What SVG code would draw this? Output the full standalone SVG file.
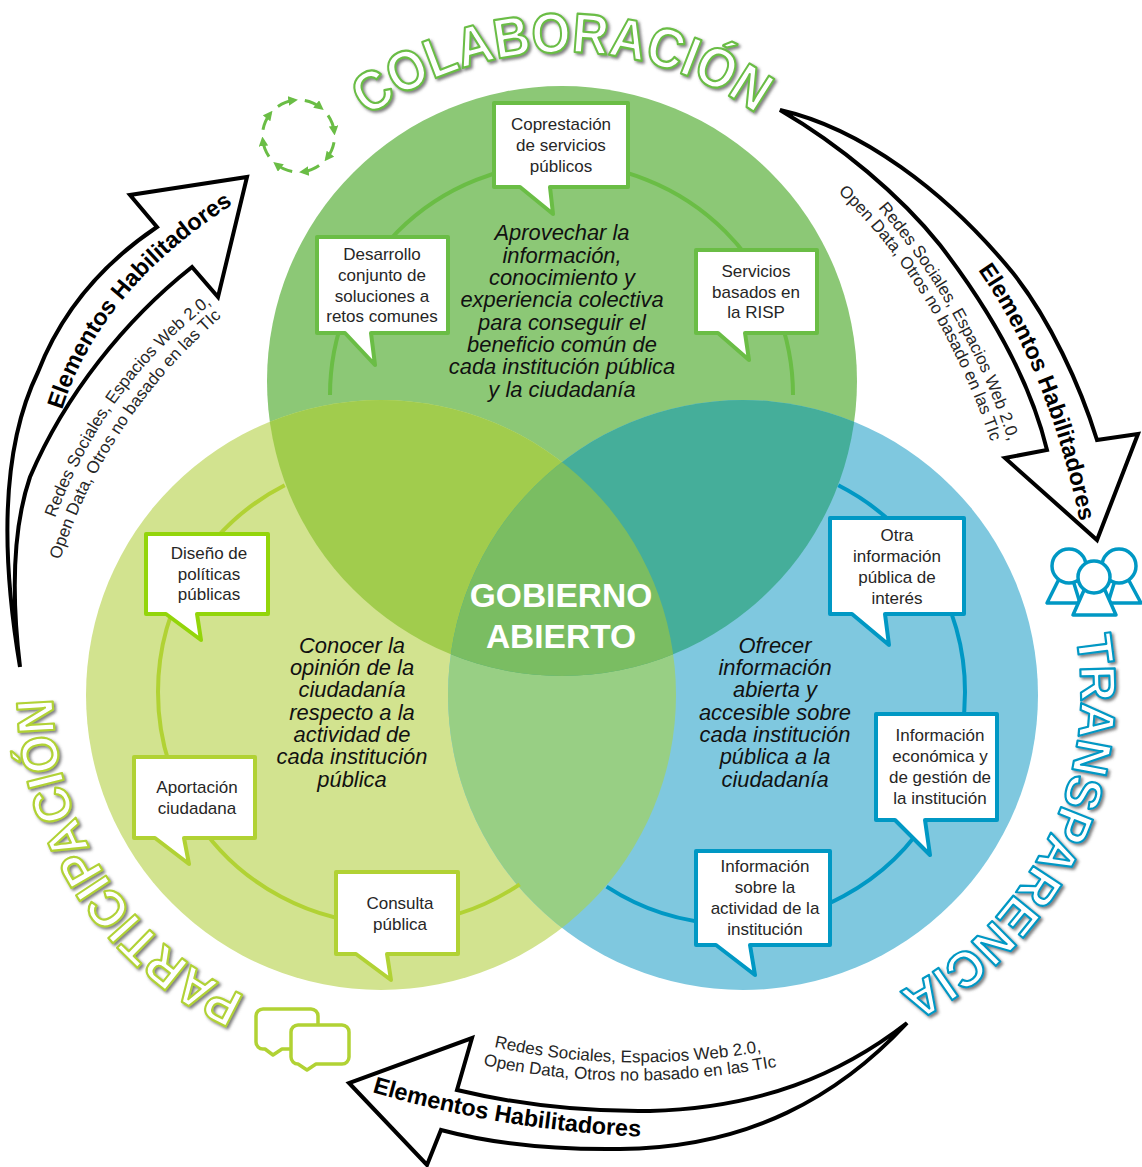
<svg xmlns="http://www.w3.org/2000/svg" xmlns:xlink="http://www.w3.org/1999/xlink" width="1142" height="1167" viewBox="0 0 1142 1167">
<style>
text{font-family:"Liberation Sans",Arial,sans-serif}
.box{fill:#fff;stroke-width:4;stroke-linejoin:round}
.g{stroke:#6ABD45}.l{stroke:#93D50A}.l2{stroke:#B1D234}.b{stroke:#0098C4}
.ring{fill:none;stroke-width:4}
.bt{font-size:17px;fill:#262626;text-anchor:middle}
.it{font-size:21.9px;font-style:italic;fill:#111;text-anchor:middle}
.ctr{font-size:33.5px;font-weight:bold;fill:#fff;text-anchor:middle}
.arrow{fill:#fff;stroke:#000;stroke-width:4;stroke-linejoin:miter}
.ah{font-size:23.4px;font-weight:bold;fill:#000}
.as{font-size:17px;fill:#262626}
.ttl{fill:#fff;stroke-width:2.2;stroke-linejoin:round;font-weight:bold;filter:url(#sh)}
.icon{fill:none;stroke-width:3.5;stroke-linejoin:round}
</style>
<defs>
<filter id="sh" x="-10%" y="-10%" width="125%" height="125%"><feDropShadow dx="2" dy="2" stdDeviation="1.6" flood-color="#555" flood-opacity=".75"/></filter>
<clipPath id="cT"><circle cx="562" cy="381" r="295"/></clipPath>
<clipPath id="cL"><circle cx="381" cy="695" r="295"/></clipPath>
<clipPath id="cR"><circle cx="743" cy="695" r="295"/></clipPath>
<marker id="ma" viewBox="0 0 10 10" refX="6" refY="5" markerWidth="3.2" markerHeight="3.2" orient="auto"><path d="M0,0L10,5L0,10Z" fill="#6ABD45"/></marker>
<path id="pC" d="M368,117 A330,330 0 0 1 758,115"/>
<path id="pP" d="M245,996 A330,330 0 0 1 53,702"/>
<path id="pT" d="M1076,636 A337,337 0 0 1 895,994"/>
<path id="a1h" d="M62,410 Q100,290 232,205"/>
<path id="a1s" d="M55,518 Q105,385 210,305"/>
<path id="a1o" d="M60,560 Q105,420 220,318"/>
<path id="a2h" d="M978,270 Q1048,370 1080,522"/>
<path id="a2s" d="M878,208 Q965,310 1008,440"/>
<path id="a2o" d="M838,192 Q940,290 992,445"/>
<path id="a3h" d="M372,1092 Q500,1130 645,1137"/>
<path id="a3s" d="M494,1047 Q620,1075 760,1052"/>
<path id="a3o" d="M483,1065 Q620,1095 775,1067"/>
</defs>
<rect width="1142" height="1167" fill="#fff"/>
<g id="venn">
<circle cx="562" cy="381" r="295" fill="#8CC876"/>
<circle cx="381" cy="695" r="295" fill="#D2E38F"/>
<circle cx="743" cy="695" r="295" fill="#7FC8DF"/>
<g clip-path="url(#cL)"><circle cx="743" cy="695" r="295" fill="#98CF84"/></g>
<g clip-path="url(#cT)"><circle cx="381" cy="695" r="295" fill="#A1CC4D"/><circle cx="743" cy="695" r="295" fill="#45AE9A"/></g>
<g clip-path="url(#cT)"><g clip-path="url(#cL)"><circle cx="743" cy="695" r="295" fill="#7ABD62"/></g></g>
</g>
<g id="connectors">
<path class="ring g" d="M330,395 A231.5,231.5 0 0 1 793,395"/>
<path class="ring l2" d="M284.7,485.3 A232,232 0 0 0 158,692 A232,232 0 0 0 519.7,884.3"/>
<path class="ring b" d="M838.3,485.3 A232,232 0 0 1 965,692 A232,232 0 0 1 606.6,886.6"/>
</g>
<g id="colaboracion-title"><text class="ttl g" font-size="56"><textPath href="#pC" textLength="415" lengthAdjust="spacingAndGlyphs">COLABORACIÓN</textPath></text></g>
<g id="participacion-title"><text class="ttl l2" font-size="52"><textPath href="#pP" textLength="374" lengthAdjust="spacingAndGlyphs">PARTICIPACIÓN</textPath></text></g>
<g id="transparencia-title"><text class="ttl b" font-size="50"><textPath href="#pT" textLength="425" lengthAdjust="spacingAndGlyphs">TRANSPARENCIA</textPath></text></g>
<g id="icon-cycle" fill="none" stroke="#6ABD45" stroke-width="3">
<path d="M277.9,106.5A36,36 0 0 1 294.1,100.3" marker-end="url(#ma)"/>
<path d="M304.8,100.5A36,36 0 0 1 320.7,107.6" marker-end="url(#ma)"/>
<path d="M328,115.4A36,36 0 0 1 334.2,131.6" marker-end="url(#ma)"/>
<path d="M334,142.3A36,36 0 0 1 326.9,158.2" marker-end="url(#ma)"/>
<path d="M319.1,165.5A36,36 0 0 1 302.9,171.7" marker-end="url(#ma)"/>
<path d="M292.2,171.5A36,36 0 0 1 276.3,164.4" marker-end="url(#ma)"/>
<path d="M269,156.6A36,36 0 0 1 262.8,140.4" marker-end="url(#ma)"/>
<path d="M263,129.7A36,36 0 0 1 270.1,113.8" marker-end="url(#ma)"/>
</g>
<g id="icon-people" class="icon b" style="fill:#fff">
<path d="M1060,577L1047,603H1080L1072,577Z"/><path d="M1127,577L1141,603H1108L1116,577Z"/>
<circle cx="1069" cy="566" r="17"/><circle cx="1119" cy="566" r="17"/>
<path d="M1085,588L1073,615H1116L1104,588Z"/>
<circle cx="1094" cy="577" r="16"/>
</g>
<g id="icon-chat" class="icon l2" style="fill:#fff">
<path d="M263,1009H311a7,7 0 0 1 7,7V1042a7,7 0 0 1 -7,7H282L273,1055L265,1049H263a7,7 0 0 1 -7,-7V1016a7,7 0 0 1 7,-7Z"/>
<path d="M298,1025H342a7,7 0 0 1 7,7V1057a7,7 0 0 1 -7,7H316L307,1070L298,1064a7,7 0 0 1 -7,-7V1032a7,7 0 0 1 7,-7Z"/>
</g>
<g id="arrow-left"><path class="arrow" d="M20,667C2,560 0,450 38,372C62,310 105,262 157,227L130,195L247,177L218,297L192,267C125,320 65,395 30,477C12,530 12,600 20,667Z"/>
<text class="ah"><textPath href="#a1h">Elementos Habilitadores</textPath></text>
<text class="as"><textPath href="#a1s">Redes Sociales, Espacios Web 2.0,</textPath></text>
<text class="as"><textPath href="#a1o">Open Data, Otros no basado en las TIc</textPath></text></g>
<g id="arrow-right"><path class="arrow" d="M780,110C860,128 945,190 1013,273C1050,320 1080,385 1097,440L1138,434L1097,540L1005,458L1047,450C1030,380 990,310 940,245C900,195 840,145 780,110Z"/>
<text class="ah"><textPath href="#a2h">Elementos Habilitadores</textPath></text>
<text class="as"><textPath href="#a2s">Redes Sociales, Espacios Web 2.0,</textPath></text>
<text class="as"><textPath href="#a2o">Open Data, Otros no basado en las TIc</textPath></text></g>
<g id="arrow-bottom"><path class="arrow" d="M907,1023C840,1095 750,1148 620,1149C550,1150 490,1143 441,1130L427,1165L349,1083L472,1038L457,1090C520,1105 580,1112 650,1111C760,1108 840,1075 907,1023Z"/>
<text class="ah"><textPath href="#a3h">Elementos Habilitadores</textPath></text>
<text class="as"><textPath href="#a3s">Redes Sociales, Espacios Web 2.0,</textPath></text>
<text class="as"><textPath href="#a3o">Open Data, Otros no basado en las TIc</textPath></text></g>
<g id="n-copres"><path class="box g" d="M494,103H628V187H550L553,214L520,187H494Z"/><text class="bt" x="561" y="130">Coprestación</text><text class="bt" x="561" y="151">de servicios</text><text class="bt" x="561" y="172">públicos</text></g>
<g id="n-desarrollo"><path class="box g" d="M317,237H448V333H371L375,365L345,333H317Z"/><text class="bt" x="382" y="260">Desarrollo</text><text class="bt" x="382" y="281">conjunto de</text><text class="bt" x="382" y="302">soluciones a</text><text class="bt" x="382" y="322">retos comunes</text></g>
<g id="n-servicios"><path class="box g" d="M696,250H817V333H745L749,360L718,333H696Z"/><text class="bt" x="756" y="277">Servicios</text><text class="bt" x="756" y="298">basados en</text><text class="bt" x="756" y="318">la RISP</text></g>
<g id="n-diseno"><path class="box l" d="M146,534H268V614H197L201,640L166,614H146Z"/><text class="bt" x="209" y="559">Diseño de</text><text class="bt" x="209" y="580">políticas</text><text class="bt" x="209" y="600">públicas</text></g>
<g id="n-aportacion"><path class="box l2" d="M134,757H255V838H184L189,864L155,838H134Z"/><text class="bt" x="197" y="793">Aportación</text><text class="bt" x="197" y="814">ciudadana</text></g>
<g id="n-consulta"><path class="box l2" d="M336,872H458V954H387L391,980L356,954H336Z"/><text class="bt" x="400" y="909">Consulta</text><text class="bt" x="400" y="930">pública</text></g>
<g id="n-otra"><path class="box b" d="M830,518H964V614H885L889,645L852,614H830Z"/><text class="bt" x="897" y="541">Otra</text><text class="bt" x="897" y="562">información</text><text class="bt" x="897" y="583">pública de</text><text class="bt" x="897" y="604">interés</text></g>
<g id="n-economica"><path class="box b" d="M876,714H997V820H925L930,855L895,820H876Z"/><text class="bt" x="940" y="741">Información</text><text class="bt" x="940" y="762">económica y</text><text class="bt" x="940" y="783">de gestión de</text><text class="bt" x="940" y="804">la institución</text></g>
<g id="n-actividad"><path class="box b" d="M696,851H830V945H750L755,975L716,945H696Z"/><text class="bt" x="765" y="872">Información</text><text class="bt" x="765" y="893">sobre la</text><text class="bt" x="765" y="914">actividad de la</text><text class="bt" x="765" y="935">institución</text></g>
<g id="t-top"><text class="it" x="562" y="240">Aprovechar la</text><text class="it" x="562" y="263">información,</text><text class="it" x="562" y="285">conocimiento y</text><text class="it" x="562" y="307">experiencia colectiva</text><text class="it" x="562" y="330">para conseguir el</text><text class="it" x="562" y="352">beneficio común de</text><text class="it" x="562" y="374">cada institución pública</text><text class="it" x="562" y="397">y la ciudadanía</text></g>
<g id="t-left"><text class="it" x="352" y="653">Conocer la</text><text class="it" x="352" y="675">opinión de la</text><text class="it" x="352" y="697">ciudadanía</text><text class="it" x="352" y="720">respecto a la</text><text class="it" x="352" y="742">actividad de</text><text class="it" x="352" y="764">cada institución</text><text class="it" x="352" y="787">pública</text></g>
<g id="t-right"><text class="it" x="775" y="653">Ofrecer</text><text class="it" x="775" y="675">información</text><text class="it" x="775" y="697">abierta y</text><text class="it" x="775" y="720">accesible sobre</text><text class="it" x="775" y="742">cada institución</text><text class="it" x="775" y="764">pública a la</text><text class="it" x="775" y="787">ciudadanía</text></g>
<g id="center"><text class="ctr" x="561" y="607">GOBIERNO</text><text class="ctr" x="561" y="648">ABIERTO</text></g>
</svg>
